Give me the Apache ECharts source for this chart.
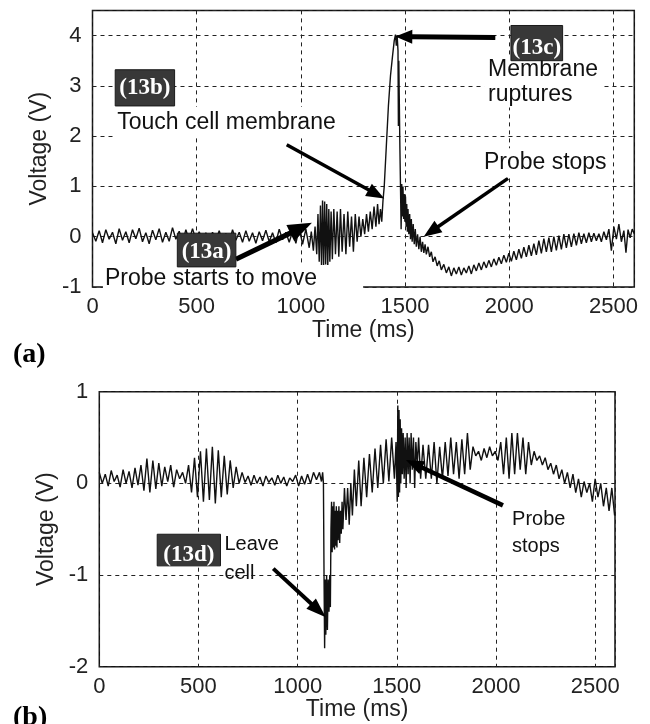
<!DOCTYPE html>
<html><head><meta charset="utf-8">
<script src="https://cdn.jsdelivr.net/npm/echarts@6/dist/echarts.min.js"></script>
<style>html,body{margin:0;padding:0;background:#fff}#c{width:650px;height:724px}</style>
</head><body><div id="c"></div>
<script>
// ---- Data (time in ms, voltage in V) ----
const xTicks = [0, 500, 1000, 1500, 2000, 2500];
const aYTicks = [-1, 0, 1, 2, 3, 4];
const bYTicks = [-2, -1, 0, 1];

// Panel (a): probe approaching and rupturing the membrane
const traceA = [
[0,0.08],[16,-0.09],[32,0.12],[48,-0.12],[64,0.14],[80,-0.05],[96,0.09],[112,-0.14],[128,0.16],[144,-0.07],
[160,0.1],[176,-0.12],[192,0.14],[208,-0.04],[224,0.17],[240,-0.1],[256,0.08],[272,-0.14],[288,0.13],[304,-0.06],
[320,0.16],[336,-0.11],[352,0.09],[368,-0.09],[384,0.18],[400,-0.05],[416,0.11],[432,-0.12],[448,0.14],[464,-0.07],
[480,0.16],[496,-0.06],[512,0.1],[528,-0.09],[544,0.08],[560,-0.11],[576,0.09],[592,-0.08],[608,0.12],[624,-0.1],
[640,0.07],[656,-0.12],[672,0.14],[688,-0.07],[704,0.09],[720,-0.11],[736,0.12],[752,-0.09],[768,0.08],[784,-0.13],
[800,0.1],[816,-0.08],[832,0.13],[848,-0.1],[864,0.08],[880,-0.12],[896,0.15],[912,-0.06],[928,0.09],[944,-0.11],
[960,0.11],[976,-0.13],[992,0.18],[1008,-0.15],[1024,0.15],[1040,-0.22],
[1050,0.1],[1060,-0.28],[1068,0.2],[1076,-0.35],[1082,0.45],[1088,-0.5],[1094,0.62],[1099,-0.58],[1104,0.72],[1109,-0.6],
[1114,0.7],[1119,-0.55],[1124,0.65],[1129,-0.6],[1134,0.55],[1139,-0.5],[1145,0.5],[1151,-0.45],[1158,0.55],[1166,-0.35],
[1174,0.5],[1182,-0.4],[1190,0.55],[1198,-0.3],[1207,0.45],[1216,-0.35],[1225,0.5],[1234,-0.2],[1243,0.4],[1252,-0.3],
[1261,0.45],[1270,-0.1],[1279,0.4],[1288,0.0],[1297,0.35],[1306,0.05],[1315,0.45],[1324,0.1],[1333,0.5],[1342,0.15],
[1351,0.6],[1360,0.2],[1368,0.65],[1375,0.25],[1382,0.55],[1388,0.3],[1394,0.72],
[1400,1.0],[1410,1.8],[1420,2.6],[1430,3.2],[1440,3.6],[1448,3.9],[1454,4.02],[1458,3.8],[1462,4.0],[1466,3.7],
[1468,2.2],[1470,3.5],[1472,2.8],[1475,1.8],[1478,1.0],[1481,0.15],[1484,1.05],[1487,0.4],[1490,1.0],[1493,0.35],
[1496,0.85],[1499,0.3],[1502,0.8],[1505,0.2],[1508,0.65],[1511,0.1],[1514,0.55],[1518,0.05],[1522,0.45],[1526,-0.05],
[1530,0.35],[1534,-0.1],[1539,0.25],[1544,-0.15],[1549,0.15],[1554,-0.2],[1560,0.05],[1566,-0.25],[1572,0.0],[1578,-0.3],
[1584,-0.1],[1590,-0.32],[1596,-0.15],[1602,-0.35],[1610,-0.2],[1618,-0.4],[1626,-0.3],[1634,-0.5],[1644,-0.4],[1654,-0.58],
[1664,-0.48],[1674,-0.66],[1686,-0.55],[1698,-0.72],[1710,-0.6],[1722,-0.78],[1734,-0.62],[1746,-0.74],[1758,-0.6],[1770,-0.76],
[1782,-0.62],[1794,-0.72],[1806,-0.58],[1818,-0.74],[1830,-0.56],[1842,-0.68],[1854,-0.52],[1866,-0.66],[1878,-0.5],[1890,-0.62],
[1902,-0.47],[1914,-0.6],[1926,-0.44],[1938,-0.57],[1950,-0.41],[1962,-0.54],[1974,-0.37],[1986,-0.51],[1998,-0.33],[2010,-0.49],
[2022,-0.29],[2034,-0.46],[2046,-0.25],[2058,-0.43],[2070,-0.21],[2082,-0.4],[2094,-0.17],[2106,-0.38],[2118,-0.14],[2130,-0.36],
[2142,-0.08],[2154,-0.33],[2166,-0.04],[2178,-0.3],[2190,-0.02],[2202,-0.3],[2214,0.0],[2226,-0.27],[2238,0.02],[2250,-0.25],
[2262,0.05],[2274,-0.22],[2286,0.05],[2298,-0.2],[2310,0.06],[2322,-0.17],[2334,0.08],[2346,-0.14],[2358,0.06],[2370,-0.12],
[2382,0.08],[2394,-0.1],[2406,0.07],[2418,-0.08],[2430,0.06],[2442,-0.1],[2454,0.1],[2466,-0.06],[2478,0.15],[2490,-0.28],
[2502,0.2],[2514,-0.05],[2526,0.25],[2538,-0.1],[2550,0.12],[2560,-0.32],[2570,0.14],[2580,-0.02],[2590,0.15],[2600,0.06]
];

// Panel (b): probe leaving the cell
const traceB = [
[0,0.12],[15,0.0],[30,0.1],[45,-0.03],[60,0.14],[75,0.02],[90,0.09],[105,-0.04],[120,0.15],[135,0.0],
[150,0.13],[165,-0.05],[180,0.17],[195,-0.02],[210,0.2],[225,-0.08],[240,0.27],[255,-0.1],[270,0.25],[285,-0.06],
[300,0.22],[315,-0.03],[330,0.18],[345,0.02],[360,0.2],[375,-0.04],[390,0.15],[405,0.05],[420,0.12],[435,0.0],
[450,0.2],[465,-0.1],[480,0.28],[495,-0.15],[510,0.35],[525,-0.2],[540,0.38],[555,-0.18],[570,0.4],[585,-0.22],
[600,0.36],[615,-0.15],[630,0.3],[645,-0.12],[660,0.25],[675,-0.05],[690,0.18],[705,0.0],[720,0.12],[735,0.01],
[750,0.08],[765,-0.02],[780,0.09],[795,0.0],[810,0.07],[825,-0.03],[840,0.08],[855,0.01],[870,0.06],[885,-0.02],
[900,0.09],[915,0.0],[930,0.07],[945,-0.03],[960,0.06],[975,0.02],[990,0.09],[1005,-0.03],[1020,0.08],[1035,-0.01],
[1050,0.1],[1065,0.0],[1080,0.12],[1095,0.04],[1110,0.12],[1120,0.02],[1126,0.12],[1130,0.0],
[1133,-1.0],[1136,-1.8],[1139,-1.05],[1142,-1.65],[1146,-1.0],[1150,-1.6],[1154,-1.05],[1158,-1.4],[1162,-1.0],[1165,-1.35],
[1168,-0.5],[1171,-0.2],[1174,-0.75],[1177,-0.25],[1180,-0.7],[1183,-0.2],[1186,-0.72],[1189,-0.3],[1192,-0.68],[1195,-0.25],
[1198,-0.7],[1201,-0.3],[1204,-0.62],[1208,-0.25],[1212,-0.65],[1216,-0.3],[1220,-0.55],[1224,-0.2],[1228,-0.5],[1236,-0.05],
[1244,-0.4],[1252,-0.05],[1260,-0.45],[1268,0.0],[1276,-0.35],[1286,0.15],[1296,-0.25],[1308,0.25],[1320,-0.25],[1334,0.28],
[1348,-0.15],[1362,0.32],[1376,-0.1],[1390,0.38],[1404,-0.05],[1418,0.42],[1432,0.0],[1446,0.48],[1460,0.02],[1474,0.5],
[1488,0.05],[1496,0.45],[1502,-0.2],[1505,0.85],[1508,-0.15],[1511,0.8],[1514,-0.1],[1517,0.7],[1520,0.0],[1524,0.6],
[1528,0.1],[1532,0.55],[1537,0.05],[1542,0.5],[1547,-0.05],[1552,0.55],[1557,0.1],[1562,0.5],[1567,0.0],[1572,0.55],
[1578,0.15],[1584,0.5],[1590,-0.05],[1596,0.45],[1603,0.2],[1610,0.5],[1620,0.05],[1632,0.42],[1646,0.05],[1660,0.42],
[1674,0.05],[1688,0.45],[1702,0.0],[1716,0.4],[1730,0.05],[1744,0.45],[1758,0.08],[1772,0.5],[1786,0.1],[1800,0.45],
[1814,0.05],[1828,0.48],[1842,0.1],[1856,0.55],[1870,0.15],[1884,0.4],[1898,0.3],[1912,0.35],[1926,0.25],[1940,0.38],
[1954,0.28],[1968,0.4],[1982,0.3],[1996,0.35],[2010,0.25],[2024,0.45],[2038,0.1],[2052,0.5],[2066,0.05],[2080,0.55],
[2094,0.1],[2108,0.55],[2122,0.15],[2136,0.5],[2150,0.1],[2164,0.45],[2178,0.2],[2192,0.35],[2206,0.25],[2220,0.3],
[2234,0.2],[2248,0.28],[2262,0.15],[2276,0.22],[2290,0.1],[2304,0.2],[2318,0.05],[2332,0.15],[2346,0.0],[2360,0.12],
[2374,-0.05],[2388,0.1],[2402,-0.1],[2416,0.05],[2430,-0.15],[2444,0.02],[2458,-0.1],[2472,0.0],[2486,-0.2],[2500,0.05],
[2514,-0.15],[2528,0.0],[2542,-0.25],[2556,-0.05],[2570,-0.3],[2584,-0.05],[2598,-0.35]
];

// ---- Chart ----
const FONT = 'Liberation Sans, Arial, sans-serif';
const chart = echarts.init(document.getElementById('c'), null, {renderer: 'canvas'});

function xAxisCfg(gi, gap) {
  return {
    type: 'value', gridIndex: gi, min: 0, max: 2600, interval: 500,
    name: 'Time (ms)', nameLocation: 'middle', nameGap: gap,
    nameTextStyle: {fontSize: 23, fontFamily: FONT, color: '#222'},
    axisLine: {show: false}, axisTick: {show: false},
    axisLabel: {fontSize: 22, fontFamily: FONT, color: '#222', margin: 9, showMaxLabel: false,
      formatter: v => xTicks.indexOf(v) >= 0 ? String(v) : ''},
    splitLine: {show: true, lineStyle: {color: '#222', type: [4, 4], width: 1}}
  };
}
function yAxisCfg(gi, min, max, ticks, gap) {
  return {
    type: 'value', gridIndex: gi, min: min, max: max, interval: 1,
    name: 'Voltage (V)', nameLocation: 'middle', nameGap: gap,
    nameTextStyle: {fontSize: 23, fontFamily: FONT, color: '#222'},
    axisLine: {show: false}, axisTick: {show: false},
    axisLabel: {fontSize: 22, fontFamily: FONT, color: '#222', margin: 11,
      formatter: v => ticks.indexOf(v) >= 0 ? String(v) : ''},
    splitLine: {show: true, lineStyle: {color: '#222', type: [4, 4], width: 1}}
  };
}

const option = {
  animation: false,
  backgroundColor: '#fff',
  grid: [
    {left: 92.5, top: 10.4, width: 541.8, height: 276.6, show: true, borderColor: '#111', borderWidth: 1.5},
    {left: 99.3, top: 391.7, width: 515.7, height: 275, show: true, borderColor: '#111', borderWidth: 1.5}
  ],
  xAxis: [xAxisCfg(0, 32), xAxisCfg(1, 31)],
  yAxis: [yAxisCfg(0, -1, 4.5, aYTicks, 37), yAxisCfg(1, -2, 1, bYTicks, 40)],
  series: [
    {type: 'line', xAxisIndex: 0, yAxisIndex: 0, data: traceA, showSymbol: false, symbol: 'none',
     lineStyle: {color: '#111', width: 1.4}},
    {type: 'line', xAxisIndex: 1, yAxisIndex: 1, data: traceB, showSymbol: false, symbol: 'none',
     lineStyle: {color: '#111', width: 1.4}}
  ]
};
chart.setOption(option);

// ---- Annotations (anchored in data coordinates) ----
function px(g, p) { return chart.convertToPixel({gridIndex: g}, p); }
function arrow(g, from, to, w, hl, hw) {
  const p1 = px(g, from), p2 = px(g, to);
  const dx = p2[0] - p1[0], dy = p2[1] - p1[1], L = Math.hypot(dx, dy);
  const ux = dx / L, uy = dy / L, nx = -uy, ny = ux;
  const bx = p2[0] - ux * hl, by = p2[1] - uy * hl;
  return [
    {type: 'line', z: 100, shape: {x1: p1[0], y1: p1[1], x2: bx + ux, y2: by + uy}, style: {stroke: '#000', lineWidth: w}},
    {type: 'polygon', z: 100, shape: {points: [[p2[0], p2[1]], [bx + nx * hw / 2, by + ny * hw / 2], [bx - nx * hw / 2, by - ny * hw / 2]]}, style: {fill: '#000'}}
  ];
}
function label(g, p, text, size, bg, pad) {
  const q = px(g, p);
  const st = {text: text, fontSize: size, fontFamily: FONT, fill: '#111', align: 'left', verticalAlign: 'middle'};
  if (bg) { st.backgroundColor = '#fff'; st.padding = pad || [4, 6, 4, 6]; }
  return {type: 'text', z: 110, x: q[0], y: q[1], style: st};
}
function tagBox(g, x0, x1, yTop, yBot, yText, text) {
  const a = px(g, [x0, yTop]), b = px(g, [x1, yBot]), t = px(g, [(x0 + x1) / 2, yText]);
  return [
    {type: 'rect', z: 120, shape: {x: a[0], y: a[1], width: b[0] - a[0], height: b[1] - a[1]},
     style: {fill: '#383838', stroke: '#1a1a1a', lineWidth: 1}},
    {type: 'text', z: 121, x: t[0], y: t[1], style: {text: text, fontSize: 23, fontWeight: 'bold',
     fontFamily: 'Liberation Serif, Times New Roman, serif', fill: '#fff', align: 'center', verticalAlign: 'middle'}}
  ];
}

const graphics = [].concat(
  label(0, [99, 2.27], 'Touch cell membrane', 23, true, [4, 10, 4, 4]),
  label(0, [1879, 3.33], 'Membrane', 23, true, [3, 6, 0, 4]),
  label(0, [1879, 2.83], 'ruptures', 23, true, [0, 30, 3, 4]),
  label(0, [1859, 1.47], 'Probe stops', 23, true, [3, 6, 3, 4]),
  label(0, [50, -0.83], 'Probe starts to move', 23, true, [2, 46, 2, 2]),
  tagBox(0, 109, 394, 3.32, 2.6, 2.96, '(13b)'),
  tagBox(0, 2008, 2256, 4.2, 3.5, 3.75, '(13c)'),
  tagBox(0, 407, 688, 0.07, -0.6, -0.3, '(13a)'),
  arrow(0, [688, -0.45], [1053, 0.28], 5, 24, 18),
  arrow(0, [932, 1.83], [1400, 0.76], 3.5, 18, 14),
  arrow(0, [1933, 3.96], [1453, 3.98], 5, 17, 14),
  arrow(0, [1994, 1.16], [1589, 0.0], 3.5, 18, 14),
  label(1, [631, -0.67], 'Leave', 20, false),
  label(1, [631, -0.98], 'cell', 20, false),
  label(1, [2081, -0.39], 'Probe', 20, false),
  label(1, [2081, -0.69], 'stops', 20, false),
  tagBox(1, 292, 611, -0.555, -0.9, -0.785, '(13d)'),
  arrow(1, [877, -0.93], [1142, -1.46], 4, 20, 14),
  arrow(1, [2035, -0.24], [1546, 0.255], 4.5, 18, 14),
  [
    {type: 'text', z: 130, left: 13, top: 341, style: {text: '(a)', fontSize: 28, fontWeight: 'bold',
      fontFamily: 'Liberation Serif, Times New Roman, serif', fill: '#000'}},
    {type: 'text', z: 130, left: 13, top: 704, style: {text: '(b)', fontSize: 28, fontWeight: 'bold',
      fontFamily: 'Liberation Serif, Times New Roman, serif', fill: '#000'}}
  ]
);
chart.setOption({graphic: graphics});
</script>
</body></html>
